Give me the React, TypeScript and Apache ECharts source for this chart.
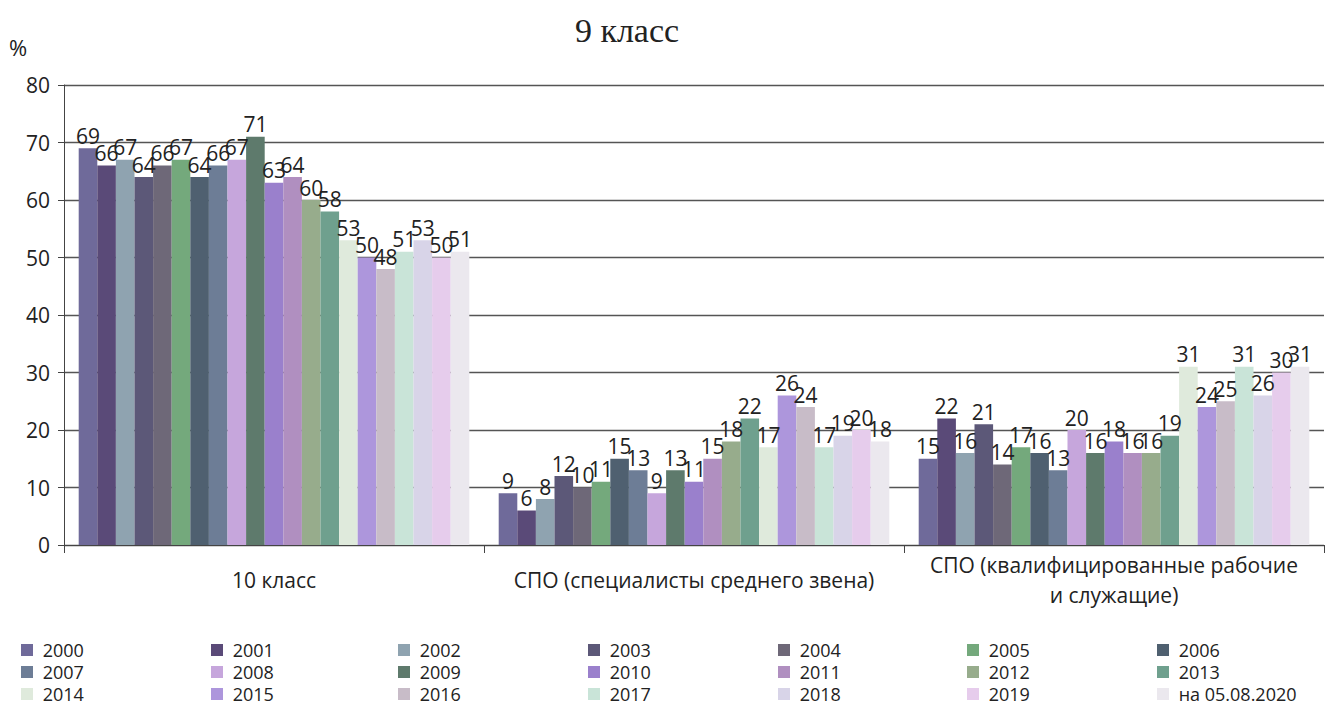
import React, { useEffect, useRef } from "react";
import * as echarts from "echarts";

const categories = [
  "10 класс",
  "СПО (специалисты среднего звена)",
  "СПО (квалифицированные рабочие\nи служащие)",
];

const seriesNames = [
  "2000", "2001", "2002", "2003", "2004", "2005", "2006",
  "2007", "2008", "2009", "2010", "2011", "2012", "2013",
  "2014", "2015", "2016", "2017", "2018", "2019", "на 05.08.2020",
];

const grade10 = [69, 66, 67, 64, 66, 67, 64, 66, 67, 71, 63, 64, 60, 58, 53, 50, 48, 51, 53, 50, 51];
const spoMid = [9, 6, 8, 12, 10, 11, 15, 13, 9, 13, 11, 15, 18, 22, 17, 26, 24, 17, 19, 20, 18];
const spoWork = [15, 22, 16, 21, 14, 17, 16, 13, 20, 16, 18, 16, 16, 19, 31, 24, 25, 31, 26, 30, 31];

const colors = [
  "#6f6a9a", "#5a4a78", "#8fa3b0", "#5c5878", "#6e6878", "#74a97c", "#4f6070",
  "#6d7d96", "#c6a6dc", "#5e7a6c", "#9a80cc", "#b08fc0", "#97ac8c", "#6fa08e",
  "#dfeadc", "#ad96dc", "#c8bcc8", "#c9e4d8", "#d8d4e8", "#e6ccec", "#ebe8ee",
];

const yTicks = { min: 0, max: 80, interval: 10 };

const legendCols = [21, 211, 398, 588, 778, 967, 1157];
const legendRows = [641, 663, 685];

export default function App() {
  const ref = useRef<HTMLDivElement>(null);
  useEffect(() => {
    if (!ref.current) return;
    const chart = echarts.init(ref.current, null, { renderer: "svg" });
    const values = [grade10, spoMid, spoWork];
    const series = seriesNames.map((name, i) => ({
      name,
      type: "bar",
      data: values.map((v) => v[i]),
      itemStyle: { color: colors[i] },
      barGap: "0%",
      barCategoryGap: "7%",
      label: {
        show: true,
        position: "top",
        distance: 2,
        color: "#222",
        fontSize: 21,
        fontFamily: "Open Sans",
      },
    }));
    const legends = seriesNames.map((name, i) => ({
      data: [name],
      left: legendCols[i % 7],
      top: legendRows[Math.floor(i / 7)],
      itemWidth: 12,
      itemHeight: 12,
      itemGap: 0,
      padding: 0,
      icon: "rect",
      formatter: (n: string) => " " + n,
      textStyle: { fontSize: 18, lineHeight: 18, color: "#222", fontFamily: "Open Sans" },
      selectedMode: false,
    }));
    chart.setOption({
      animation: false,
      backgroundColor: "#fff",
      title: {
        text: "9 класс",
        left: 622,
        top: 8,
        textAlign: "center",
        textStyle: { fontFamily: "Liberation Serif", fontSize: 34, fontWeight: "normal", color: "#222" },
      },
      graphic: [
        {
          type: "text",
          left: 9,
          top: 36,
          style: { text: "%", fontSize: 22, fill: "#222", fontFamily: "Open Sans" },
        },
      ],
      legend: legends,
      grid: { left: 64, right: 3, top: 85, bottom: 160 },
      xAxis: {
        type: "category",
        data: categories,
        axisLine: { lineStyle: { color: "#444", width: 1 } },
        axisTick: { show: true, length: 8, lineStyle: { color: "#444" } },
        axisLabel: {
          color: "#222",
          fontSize: 21,
          fontFamily: "Open Sans",
          margin: 35,
          verticalAlign: "middle",
          interval: 0,
          lineHeight: 30,
        },
      },
      yAxis: {
        type: "value",
        min: yTicks.min,
        max: yTicks.max,
        interval: yTicks.interval,
        axisLine: { show: true, lineStyle: { color: "#444" } },
        axisTick: { show: true, length: 6, lineStyle: { color: "#444" } },
        axisLabel: { color: "#222", fontSize: 21, fontFamily: "Open Sans", margin: 14 },
        splitLine: { lineStyle: { color: "#555", width: 1.3 } },
      },
      series,
    });
    return () => chart.dispose();
  }, []);
  return (
    <div
      ref={ref}
      style={{ position: "fixed", left: 0, top: 0, width: 1327, height: 705 }}
    />
  );
}
